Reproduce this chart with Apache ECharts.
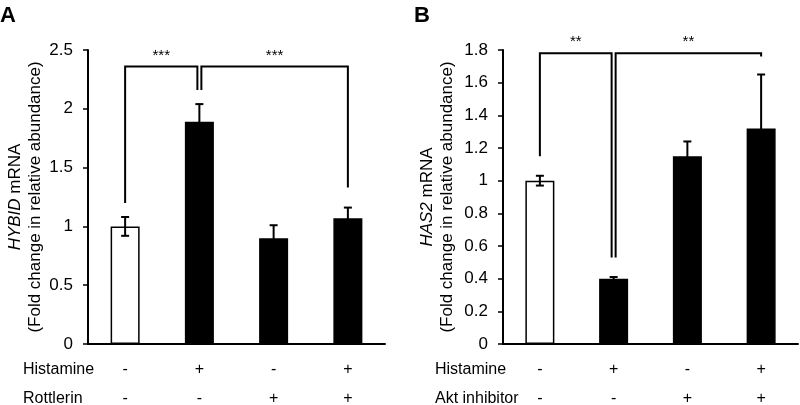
<!DOCTYPE html>
<html><head><meta charset="utf-8">
<script src="https://cdn.jsdelivr.net/npm/echarts@6/dist/echarts.min.js"></script>
<style>html,body{margin:0;padding:0;background:#fff}#c{width:800px;height:405px}</style>
</head><body><div id="c"></div>
<script>
// ---- Panel A data ----
const categoriesA = ['Control', 'Histamine', 'Rottlerin', 'Histamine + Rottlerin'];
const valuesA = [1.0, 1.89, 0.90, 1.07];
const errorsA = [0.08, 0.15, 0.11, 0.09];
const rowNamesA = ['Histamine', 'Rottlerin'];
const histamineA = ['-', '+', '-', '+'];
const rottlerinA = ['-', '-', '+', '+'];
const yMinA = 0, yMaxA = 2.5, yStepA = 0.5;
const bracketFromA = [0, 1];
const bracketToA = [1, 3];
const bracketTopA = [2.36, 2.36];
const bracketLeftEndA = [1.20, 2.16];
const bracketRightEndA = [2.16, 1.33];
const bracketLabelA = ['***', '***'];

// ---- Panel B data ----
const categoriesB = ['Control', 'Histamine', 'Akt inhibitor', 'Histamine + Akt inhibitor'];
const valuesB = [1.0, 0.40, 1.15, 1.32];
const errorsB = [0.03, 0.01, 0.09, 0.33];
const rowNamesB = ['Histamine', 'Akt inhibitor'];
const histamineB = ['-', '+', '-', '+'];
const aktB = ['-', '-', '+', '+'];
const yMinB = 0, yMaxB = 1.8, yStepB = 0.2;
const bracketFromB = [0, 1];
const bracketToB = [1, 3];
const bracketTopB = [1.78, 1.78];
const bracketLeftEndB = [1.15, 0.53];
const bracketRightEndB = [0.53, 1.76];
const bracketLabelB = ['**', '**'];

const FONT = '"Liberation Sans", Arial, sans-serif';
const chart = echarts.init(document.getElementById('c'), null, {renderer: 'canvas'});

function errRender(params, api) {
  const x = api.value(0), v = api.value(1), e = api.value(2);
  const top = api.coord([x, v + e]), bot = api.coord([x, v - e]);
  const cw = 4;
  const st = {stroke: '#000', lineWidth: 2};
  return {type: 'group', children: [
    {type: 'line', shape: {x1: top[0], y1: top[1], x2: bot[0], y2: bot[1]}, style: st},
    {type: 'line', shape: {x1: top[0] - cw, y1: top[1], x2: top[0] + cw, y2: top[1]}, style: st},
    {type: 'line', shape: {x1: bot[0] - cw, y1: bot[1], x2: bot[0] + cw, y2: bot[1]}, style: st}
  ]};
}

function makeBracketRender(froms, tos, labels) {
  const count = c => froms.filter(v => v === c).length + tos.filter(v => v === c).length;
  return function (params, api) {
    const f = api.value(0), t = api.value(1), top = api.value(2);
    const pTL = api.coord([f, top]), pTR = api.coord([t, top]);
    const pBL = api.coord([f, api.value(3)]), pBR = api.coord([t, api.value(4)]);
    const dl = count(f) > 1 ? 2 : 0;
    const dr = count(t) > 1 ? -2 : 0;
    const label = labels[params.dataIndex];
    return {type: 'group', children: [
      {type: 'polyline', shape: {points: [[pBL[0] + dl, pBL[1]], [pTL[0] + dl, pTL[1]], [pTR[0] + dr, pTR[1]], [pBR[0] + dr, pBR[1]]]},
        style: {stroke: '#000', lineWidth: 2, fill: null}},
      {type: 'text', x: (pTL[0] + dl + pTR[0] + dr) / 2, y: pTL[1] - 11,
        style: {text: label, fill: '#000', font: '15px ' + FONT, align: 'center', verticalAlign: 'middle'}}
    ]};
  };
}

function bracketData(froms, tos, tops, le, re) {
  return froms.map((f, i) => [f, tos[i], tops[i], le[i], re[i]]);
}

function xAxisCfg(idx, cats, row1, row2) {
  return {
    type: 'category', gridIndex: idx, data: cats,
    axisLine: {lineStyle: {color: '#000', width: 2}},
    axisTick: {inside: true, length: 5, lineStyle: {color: '#000', width: 1.5}},
    axisLabel: {
      color: '#000', fontSize: 16, fontFamily: FONT, lineHeight: 29, margin: 11,
      interval: 0,
      formatter: (v, i) => row1[i] + '\n' + row2[i]
    }
  };
}

function yAxisCfg(idx, min, max, step, gene, gap) {
  return {
    type: 'value', gridIndex: idx, min: min, max: max, interval: step,
    splitLine: {show: false},
    axisLine: {show: true, lineStyle: {color: '#000', width: 2}},
    axisTick: {show: true, length: 5, lineStyle: {color: '#000', width: 1.5}},
    axisLabel: {color: '#000', fontSize: 17, fontFamily: FONT, margin: 15},
    name: '{i|' + gene + '} mRNA\n(Fold change in relative abundance)',
    nameLocation: 'middle', nameRotate: 90, nameGap: gap,
    nameTextStyle: {color: '#000', fontSize: 17, fontFamily: FONT, lineHeight: 20,
      rich: {i: {fontStyle: 'italic', fontSize: 17, fontFamily: FONT, color: '#000', lineHeight: 20}}}
  };
}

const barColor = p => (p.dataIndex === 0 ? '#ffffff' : '#000000');

chart.setOption({
  animation: false,
  backgroundColor: '#fff',
  grid: [
    {left: 88, right: 415, top: 50, bottom: 61, outerBoundsMode: 'none'},
    {left: 503, right: 2, top: 50, bottom: 61, outerBoundsMode: 'none'}
  ],
  xAxis: [xAxisCfg(0, categoriesA, histamineA, rottlerinA), xAxisCfg(1, categoriesB, histamineB, aktB)],
  yAxis: [yAxisCfg(0, yMinA, yMaxA, yStepA, 'HYBID', 42), yAxisCfg(1, yMinB, yMaxB, yStepB, 'HAS2', 46)],
  graphic: [
    {type: 'text', left: 0, top: 5, style: {text: 'A', font: 'bold 22px ' + FONT, fill: '#000'}},
    {type: 'text', left: 414, top: 5, style: {text: 'B', font: 'bold 22px ' + FONT, fill: '#000'}},
    {type: 'text', x: 23, y: 370, style: {text: rowNamesA[0], font: '16px ' + FONT, fill: '#000', verticalAlign: 'middle'}},
    {type: 'text', x: 23, y: 399, style: {text: rowNamesA[1], font: '16px ' + FONT, fill: '#000', verticalAlign: 'middle'}},
    {type: 'text', x: 435, y: 370, style: {text: rowNamesB[0], font: '16px ' + FONT, fill: '#000', verticalAlign: 'middle'}},
    {type: 'text', x: 435, y: 399, style: {text: rowNamesB[1], font: '16px ' + FONT, fill: '#000', verticalAlign: 'middle'}}
  ],
  series: [
    {type: 'bar', xAxisIndex: 0, yAxisIndex: 0, data: valuesA, barWidth: 29,
      itemStyle: {color: barColor, borderColor: '#000', borderWidth: 1.5}, z: 2},
    {type: 'custom', xAxisIndex: 0, yAxisIndex: 0, renderItem: errRender, z: 3,
      data: valuesA.map((v, i) => [i, v, errorsA[i]])},
    {type: 'custom', xAxisIndex: 0, yAxisIndex: 0, clip: false, z: 4,
      renderItem: makeBracketRender(bracketFromA, bracketToA, bracketLabelA),
      data: bracketData(bracketFromA, bracketToA, bracketTopA, bracketLeftEndA, bracketRightEndA)},
    {type: 'bar', xAxisIndex: 1, yAxisIndex: 1, data: valuesB, barWidth: 29,
      itemStyle: {color: barColor, borderColor: '#000', borderWidth: 1.5}, z: 2},
    {type: 'custom', xAxisIndex: 1, yAxisIndex: 1, renderItem: errRender, z: 3,
      data: valuesB.map((v, i) => [i, v, errorsB[i]])},
    {type: 'custom', xAxisIndex: 1, yAxisIndex: 1, clip: false, z: 4,
      renderItem: makeBracketRender(bracketFromB, bracketToB, bracketLabelB),
      data: bracketData(bracketFromB, bracketToB, bracketTopB, bracketLeftEndB, bracketRightEndB)}
  ]
});
</script></body></html>
